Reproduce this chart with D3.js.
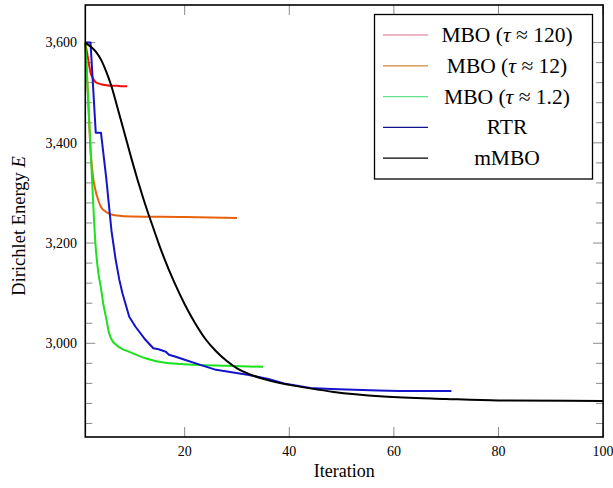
<!DOCTYPE html>
<html>
<head>
<meta charset="utf-8">
<script src="https://cdn.jsdelivr.net/npm/d3@7"></script>
<style>
  body { margin: 0; background: #fff; }
  text { font-family: "Liberation Serif", "DejaVu Serif", serif; }
</style>
</head>
<body>
<div id="container"></div>
<script>
// DATA

const tau120Iter   = [1, 1.5, 2, 2.5, 3, 4, 5, 6, 7, 8, 9];
const tau120Energy = [3600, 3570, 3540, 3528, 3521, 3517, 3515, 3514, 3514, 3513, 3513];

const tau12Iter   = [1, 1.5, 2, 2.5, 3, 3.5, 4, 5, 6, 7, 10, 20, 30];
const tau12Energy = [3600, 3500, 3385, 3330, 3303, 3285, 3272, 3262, 3257, 3255, 3253, 3252, 3250];

const tau1Iter   = [1, 2, 3, 3.5, 4, 4.5, 5, 5.5, 6, 7, 8, 9.4, 12.5, 15.7, 22, 28, 35];
const tau1Energy = [3600, 3390, 3190, 3140, 3110, 3075, 3050, 3022, 3008, 2996, 2989, 2983, 2970, 2962, 2957, 2955, 2953];

const rtrIter   = [1, 2, 3, 4, 5, 6, 6.8, 7.5, 8.1, 9.4, 10.6, 12.5, 14, 15, 16.4, 17, 18.3, 20, 23, 26, 32, 36, 39, 44, 48, 57, 61, 71];
const rtrEnergy = [3600, 3600, 3420, 3420, 3330, 3225, 3167, 3127, 3100, 3053, 3033, 3007, 2990, 2988, 2983, 2977, 2973, 2967, 2957, 2947, 2937, 2929, 2920, 2911, 2909, 2906, 2905, 2905];

const mmboIter   = [1, 2, 3, 4, 5, 6, 7, 8, 9, 10, 11, 12, 13, 14, 15, 16, 18, 20, 22, 24, 26, 28, 30, 32, 35, 38, 40, 44, 48.5, 58, 70, 80, 100];
const mmboEnergy = [3600, 3592, 3582, 3566, 3542, 3513, 3476, 3438, 3400, 3362, 3326, 3292, 3260, 3230, 3200, 3172, 3122, 3078, 3040, 3008, 2984, 2965, 2950, 2940, 2929, 2921, 2917, 2910, 2903, 2894, 2889, 2886, 2885];

const legendLabels = ["MBO (\u03c4 \u2248 120)", "MBO (\u03c4 \u2248 12)", "MBO (\u03c4 \u2248 1.2)", "RTR", "mMBO"];

const xTicks = [20, 40, 60, 80, 100];
const yTicks = [3000, 3200, 3400, 3600];
const yMinorTicks = d3.range(2840, 3601, 40).filter(v => !yTicks.includes(v));

// VARIABLES

const width = 613;
const height = 488;
const plotL = 85.3, plotR = 603.1, plotT = 5, plotB = 437;

const series = [
  {iter: tau120Iter, energy: tau120Energy, color: "#f20d0d", legendColor: "#dc6a84", smooth: true},
  {iter: tau12Iter,  energy: tau12Energy,  color: "#e8620e", legendColor: "#d0863a", smooth: true},
  {iter: tau1Iter,   energy: tau1Energy,   color: "#1fe01f", legendColor: "#5fe28a", smooth: true},
  {iter: rtrIter,    energy: rtrEnergy,    color: "#1414c8", legendColor: "#12128a", smooth: false},
  {iter: mmboIter,   energy: mmboEnergy,   color: "#000000", legendColor: "#000000", smooth: true}
];

// SCALES

const xScale = d3.scaleLinear()
  .domain([1, 100])
  .range([plotL, plotR]);

const yScale = d3.scaleLinear()
  .domain([2813, 3675])
  .range([plotB, plotT]);

// ELEMENTS

const svg = d3.select("#container")
  .append("svg")
  .attr("width", width)
  .attr("height", height);

const tickColor = "#8a8a8a";

// y ticks on left and right, pointing inward
const yAll = yTicks.map(v => ({v, len: 10})).concat(yMinorTicks.map(v => ({v, len: 7})));
svg.append("g").selectAll("line")
  .data(yAll)
  .join("line")
  .attr("x1", plotL).attr("x2", d => plotL + d.len)
  .attr("y1", d => yScale(d.v)).attr("y2", d => yScale(d.v))
  .attr("stroke", tickColor).attr("stroke-width", 1);

svg.append("g").selectAll("line")
  .data(yAll)
  .join("line")
  .attr("x1", plotR).attr("x2", d => plotR - d.len)
  .attr("y1", d => yScale(d.v)).attr("y2", d => yScale(d.v))
  .attr("stroke", tickColor).attr("stroke-width", 1);

// x ticks on bottom and top
svg.append("g").selectAll("line")
  .data(xTicks)
  .join("line")
  .attr("x1", d => xScale(d)).attr("x2", d => xScale(d))
  .attr("y1", plotB).attr("y2", plotB - 10)
  .attr("stroke", tickColor).attr("stroke-width", 1);

svg.append("g").selectAll("line")
  .data(xTicks)
  .join("line")
  .attr("x1", d => xScale(d)).attr("x2", d => xScale(d))
  .attr("y1", plotT).attr("y2", plotT + 10)
  .attr("stroke", tickColor).attr("stroke-width", 1);

// tick labels
const fmt = d3.format(",");
svg.append("g").selectAll("text")
  .data(yTicks)
  .join("text")
  .attr("x", 77)
  .attr("y", d => yScale(d))
  .attr("dy", "0.34em")
  .attr("text-anchor", "end")
  .attr("font-size", 14)
  .text(d => fmt(d));

svg.append("g").selectAll("text")
  .data(xTicks)
  .join("text")
  .attr("x", d => xScale(d))
  .attr("y", 456)
  .attr("text-anchor", "middle")
  .attr("font-size", 14)
  .text(d => d);

// LINES

const smoothLine = d3.line()
  .x(d => xScale(d[0]))
  .y(d => yScale(d[1]))
  .curve(d3.curveMonotoneX);

const straightLine = d3.line()
  .x(d => xScale(d[0]))
  .y(d => yScale(d[1]));

svg.append("g").selectAll("path")
  .data(series)
  .join("path")
  .attr("d", s => (s.smooth ? smoothLine : straightLine)(d3.zip(s.iter, s.energy)))
  .attr("fill", "none")
  .attr("stroke", s => s.color)
  .attr("stroke-width", 2)
  .attr("stroke-linejoin", "round");

// FRAME

svg.append("rect")
  .attr("x", plotL).attr("y", plotT)
  .attr("width", plotR - plotL).attr("height", plotB - plotT)
  .attr("fill", "none")
  .attr("stroke", "#000")
  .attr("stroke-width", 1.6);

// AXIS LABELS

svg.append("text")
  .attr("x", (plotL + plotR) / 2)
  .attr("y", 477)
  .attr("text-anchor", "middle")
  .attr("font-size", 18)
  .text("Iteration");

const yLab = svg.append("text")
  .attr("transform", "translate(25,226) rotate(-90)")
  .attr("text-anchor", "middle")
  .attr("font-size", 18.5);
yLab.append("tspan").text("Dirichlet Energy ");
yLab.append("tspan").attr("font-style", "italic").text("E");

// LEGEND

const legend = svg.append("g");
legend.append("rect")
  .attr("x", 374.5).attr("y", 14.5)
  .attr("width", 218).attr("height", 164.5)
  .attr("fill", "#fff")
  .attr("stroke", "#000")
  .attr("stroke-width", 1.3);

const rowY = i => 35 + i * 30.8;

legend.selectAll("line")
  .data(series)
  .join("line")
  .attr("x1", 383).attr("x2", 428)
  .attr("y1", (d, i) => rowY(i)).attr("y2", (d, i) => rowY(i))
  .attr("stroke", d => d.legendColor)
  .attr("stroke-width", 1.2);

const legendText = legend.selectAll("text")
  .data(legendLabels)
  .join("text")
  .attr("x", 507)
  .attr("y", (d, i) => rowY(i) + 7)
  .attr("text-anchor", "middle")
  .attr("font-size", 21.5);

// tau in italic like the math font
legendText.each(function(label) {
  const parts = label.split("\u03c4");
  const t = d3.select(this);
  parts.forEach((p, j) => {
    if (j > 0) t.append("tspan").attr("font-style", "italic").text("\u03c4");
    t.append("tspan").text(p);
  });
});
</script>
</body>
</html>
